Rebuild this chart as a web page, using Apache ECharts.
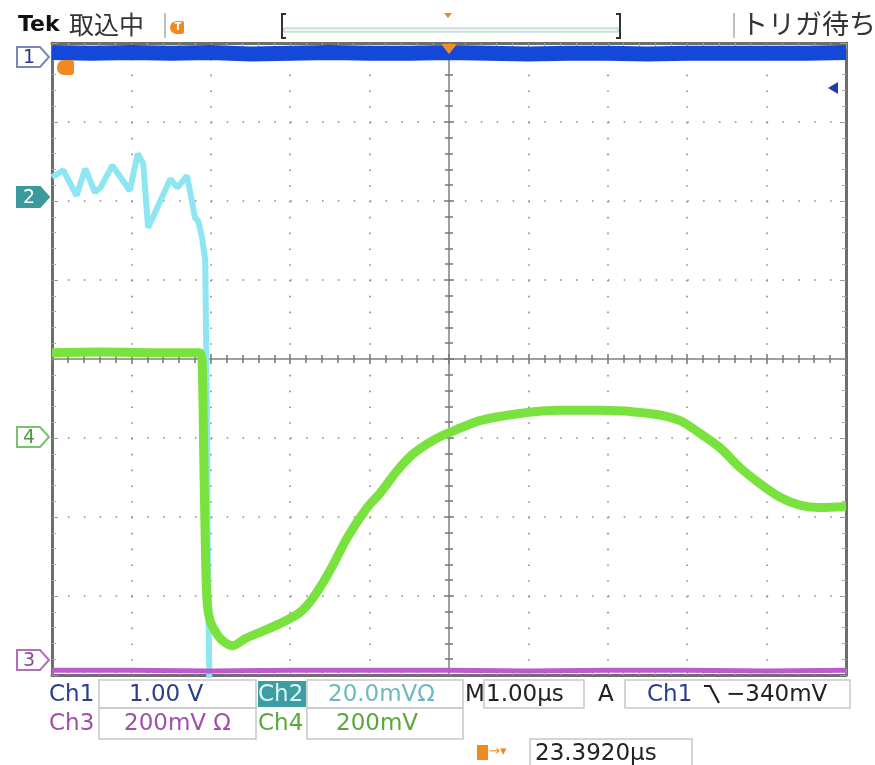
<!DOCTYPE html>
<html><head><meta charset="utf-8">
<script src="https://cdn.jsdelivr.net/npm/echarts@6/dist/echarts.min.js"></script>
<style>html,body{margin:0;padding:0;background:#fff}#c{width:875px;height:765px}</style>
</head><body><div id="c"></div>
<script>
// Horizontal: 1.00 µs/div, trigger at 0. Vertical: screen divisions.
const ch1X = [-5,-4.5,-4,-3.5,-3,-2.5,-2,-1.5,-1,-0.5,0,0.5,1,1.5,2,2.5,3,3.5,4,4.5,5];
const ch1Y = [3.88,3.87,3.88,3.87,3.88,3.86,3.87,3.88,3.87,3.87,3.88,3.87,3.86,3.87,3.87,3.86,3.87,3.87,3.87,3.87,3.88];

const ch2X = [-5.00,-4.86,-4.69,-4.58,-4.46,-4.39,-4.24,-4.02,-3.92,-3.85,-3.79,-3.73,-3.51,-3.42,-3.30,-3.24,-3.20,-3.16,-3.11,-3.07,-3.05,-3.04,-3.02,-3.02];
const ch2Y = [2.30,2.39,2.07,2.41,2.11,2.17,2.45,2.13,2.60,2.47,1.66,1.79,2.28,2.17,2.32,2.01,1.79,1.75,1.54,1.25,-0.53,-2.30,-3.88,-4.32];

const ch4X = [-5.00,-4.40,-3.77,-3.14,-3.11,-3.09,-3.07,-3.05,-3.01,-2.91,-2.82,-2.72,-2.57,-2.38,-2.13,-1.88,-1.71,-1.50,-1.28,-1.03,-0.87,-0.65,-0.45,-0.20,0.01,0.39,0.89,1.39,1.90,2.53,2.91,3.16,3.41,3.66,3.92,4.17,4.42,4.67,5.00];
const ch4Y = [0.08,0.09,0.08,0.08,-0.02,-1.16,-2.30,-3.02,-3.31,-3.50,-3.59,-3.63,-3.54,-3.46,-3.35,-3.21,-3.02,-2.68,-2.26,-1.88,-1.70,-1.41,-1.20,-1.03,-0.93,-0.78,-0.69,-0.65,-0.65,-0.69,-0.78,-0.94,-1.12,-1.37,-1.58,-1.75,-1.85,-1.88,-1.87];

const ch3X = [-5,-4,-3,-2,-1,0,1,2,3,4,5];
const ch3Y = [-3.94,-3.94,-3.95,-3.94,-3.94,-3.94,-3.95,-3.94,-3.94,-3.95,-3.94];

const xTicks = {min:-5, max:5, interval:1};
const yTicks = {min:-4, max:4, interval:1};

function zip(a,b){return a.map((v,i)=>[v,b[i]]);}

const gridCol = '#8c8c8c';
const dotH = [1.6, 14.28];
const dotV = [1.6, 14.2];

function edgeX(pos){
  return {type:'value', position:pos, min:xTicks.min, max:xTicks.max, interval:xTicks.interval,
    axisLine:{onZero:false, lineStyle:{color:'#6e6e6e', width:3}},
    axisTick:{show:true, inside:true, length:6, lineStyle:{color:'#999'}},
    minorTick:{show:true, splitNumber:5, length:4, lineStyle:{color:'#aaa'}},
    axisLabel:{show:false},
    splitLine:{show:pos==='bottom', lineStyle:{color:gridCol, type:dotV, width:1.6}}};
}
function edgeY(pos){
  return {type:'value', position:pos, min:yTicks.min, max:yTicks.max, interval:yTicks.interval,
    axisLine:{onZero:false, lineStyle:{color:'#6e6e6e', width:3}},
    axisTick:{show:true, inside:true, length:6, lineStyle:{color:'#999'}},
    minorTick:{show:true, splitNumber:5, length:4, lineStyle:{color:'#aaa'}},
    axisLabel:{show:false},
    splitLine:{show:pos==='left', lineStyle:{color:gridCol, type:dotH, width:1.6}}};
}
function centerX(inside){
  return {type:'value', min:xTicks.min, max:xTicks.max, interval:xTicks.interval,
    axisLine:{onZero:true, lineStyle:{color:'#9a9a9a', width:1.5}},
    axisTick:{show:true, inside:inside, length:5, lineStyle:{color:'#777', width:1.5}},
    minorTick:{show:true, splitNumber:5, length:4, lineStyle:{color:'#777', width:1.5}},
    axisLabel:{show:false}, splitLine:{show:false}};
}
function centerY(inside){
  return {type:'value', min:yTicks.min, max:yTicks.max, interval:yTicks.interval,
    axisLine:{onZero:true, lineStyle:{color:'#9a9a9a', width:1.5}},
    axisTick:{show:true, inside:inside, length:5, lineStyle:{color:'#777', width:1.5}},
    minorTick:{show:true, splitNumber:5, length:4, lineStyle:{color:'#777', width:1.5}},
    axisLabel:{show:false}, splitLine:{show:false}};
}

function marker(y, label, stroke, fill, txtc){
  return [
    {type:'polygon', shape:{points:[[17,y-10],[40,y-10],[49,y],[40,y+10],[17,y+10]]},
     style:{fill:fill, stroke:stroke, lineWidth:2}, z:100},
    {type:'text', style:{text:label, x:29, y:y+1, fill:txtc, font:'19px "DejaVu Sans"', textAlign:'center', textVerticalAlign:'middle'}, z:101}
  ];
}
function box(x,y,w,h){
  return {type:'rect', shape:{x:x,y:y,width:w,height:h}, style:{fill:'none', stroke:'#c8c8c8', lineWidth:1.5}, z:50};
}
const F = '23px "DejaVu Sans"';
function txt(t,x,y,col,font,align){
  return {type:'text', style:{text:t, x:x, y:y, fill:col, font:font||F, textAlign:align||'left', textVerticalAlign:'middle'}, z:60};
}

const graphics = [].concat(
  marker(57,'1','#7a86b8','#fff','#2a3a8a'),
  marker(197,'2','#3c9a9c','#3c9a9c','#ffffff'),
  marker(437,'4','#7cc070','#fff','#4a9a3a'),
  marker(660,'3','#b070b8','#fff','#8a4a90'),
  [
    // top status bar
    txt('Tek', 18, 25, '#111', 'bold 22px "DejaVu Sans"'),
    txt('取込中', 69, 24, '#333', '25px "Noto Sans CJK JP"'),
    {type:'line', shape:{x1:165,y1:13,x2:165,y2:38}, style:{stroke:'#aaa', lineWidth:1.5}},
    {type:'rect', shape:{x:170,y:21,width:14,height:13, r:[7,2,2,7]}, style:{fill:'#f08a20'}},
    txt('T',178,27,'#fff','bold 10px "DejaVu Sans"','center'),
    {type:'polyline', shape:{points:[[286,14],[282,14],[282,38],[286,38]]}, style:{stroke:'#333', lineWidth:2, fill:'none'}},
    {type:'polyline', shape:{points:[[616,14],[620,14],[620,38],[616,38]]}, style:{stroke:'#333', lineWidth:2, fill:'none'}},
    {type:'rect', shape:{x:284,y:28,width:334,height:4}, style:{fill:'#eef5f3', stroke:'#a8ccc4', lineWidth:1}},
    {type:'polygon', shape:{points:[[444,13],[452,13],[448,18]]}, style:{fill:'#e08a30'}},
    {type:'line', shape:{x1:734,y1:13,x2:734,y2:38}, style:{stroke:'#aaa', lineWidth:1.5}},
    txt('トリガ待ち', 741, 24, '#333', '27px "Noto Sans CJK JP"'),
    // trigger markers
    {type:'polygon', shape:{points:[[441,44],[457,44],[449,54]]}, style:{fill:'#f0902a'}, z:120},
    {type:'rect', shape:{x:57,y:60,width:17,height:15, r:[7,3,3,7]}, style:{fill:'#f08a20'}, z:120},
    txt('T',67,68,'#fff','bold 10px "DejaVu Sans"','center'),
    {type:'polygon', shape:{points:[[828,88],[838,82],[838,94]]}, style:{fill:'#1a3fa8'}, z:120},
    // bottom readouts row 1
    txt('Ch1', 49, 695, '#2a3f8a'),
    box(99,680,157,28),
    txt('1.00 V', 129, 695, '#2a3f8a'),
    {type:'rect', shape:{x:258,y:681,width:48,height:26}, style:{fill:'#3c9ea2'}, z:55},
    txt('Ch2', 258, 695, '#dff4f4'),
    box(307,680,156,28),
    txt('20.0mVΩ', 328, 695, '#6fb8c0'),
    txt('M', 465, 695, '#222'),
    box(484,680,100,28),
    txt('1.00μs', 486, 695, '#222'),
    txt('A', 598, 695, '#222'),
    box(625,680,225,28),
    txt('Ch1', 647, 695, '#2a3f8a'),
    {type:'polyline', shape:{points:[[704,686],[710,686],[719,703]]}, style:{stroke:'#222', lineWidth:2.2, fill:'none'}, z:60},
    txt('−340mV', 726, 695, '#222'),
    // row 2
    txt('Ch3', 49, 724, '#a050a8'),
    box(99,708,157,31),
    txt('200mV Ω', 124, 724, '#a050a8'),
    txt('Ch4', 258, 724, '#5aa83a'),
    box(307,708,156,31),
    txt('200mV', 336, 724, '#5aa83a'),
    // row 3
    {type:'rect', shape:{x:477,y:745,width:11,height:15}, style:{fill:'#f08a20'}},
    txt('→▾', 489, 752, '#f08a20', '13px "DejaVu Sans"'),
    box(530,739,162,28),
    txt('23.3920μs', 535, 754, '#222')
  ]
);

const option = {
  animation:false,
  backgroundColor:'#ffffff',
  grid:{left:52, top:43, width:794, height:632, show:true, backgroundColor:'#ffffff', borderWidth:0},
  xAxis:[edgeX('bottom'), edgeX('top'), centerX(true), centerX(false)],
  yAxis:[edgeY('left'), edgeY('right'), centerY(true), centerY(false)],
  series:[
    {name:'Ch1', type:'line', data:zip(ch1X,ch1Y), showSymbol:false, lineStyle:{color:'#1448d8', width:15}, z:5},
    {name:'Ch2', type:'line', data:zip(ch2X,ch2Y), showSymbol:false, lineStyle:{color:'#8ee6f2', width:6}, z:6},
    {name:'Ch4', type:'line', data:zip(ch4X,ch4Y), showSymbol:false, smooth:0.25, lineStyle:{color:'#7ae23e', width:9, join:'round'}, z:7},
    {name:'Ch3', type:'line', data:zip(ch3X,ch3Y), showSymbol:false, lineStyle:{color:'#c058d0', width:5}, z:8}
  ],
  graphic:graphics
};
const chart = echarts.init(document.getElementById('c'), null, {renderer:'canvas'});
chart.setOption(option);
</script></body></html>
